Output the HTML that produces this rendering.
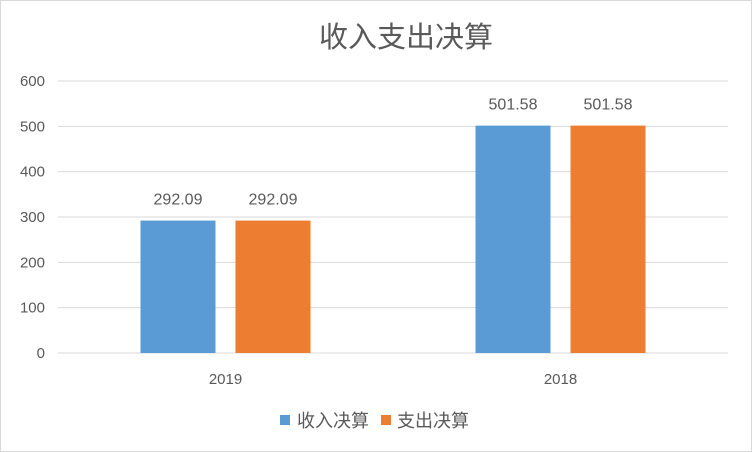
<!DOCTYPE html>
<html><head><meta charset="utf-8"><style>
body{margin:0;background:#fff;}
#wrap{position:relative;width:752px;height:452px;overflow:hidden;}
svg text{font-family:"Liberation Sans","Noto Sans CJK SC",sans-serif;fill:#595959;}
</style></head><body>
<div id="wrap">
<svg id="chart" width="752" height="452">
<rect x="0.5" y="0.5" width="751" height="451" fill="#fff" stroke="#d9d9d9"/>
<text x="406" y="47" font-size="29" text-anchor="middle">收入支出决算</text>
<g id="grid"></g><g id="bars"></g>
<g>
<rect x="280" y="415" width="10" height="10" fill="#5b9bd5"/>
<text x="297" y="427" font-size="18">收入决算</text>
<rect x="381" y="415" width="10" height="10" fill="#ed7d31"/>
<text x="397" y="427" font-size="18">支出决算</text>
</g>
</svg></div>
<script>
const categories=["2019","2018"];
const incomeValues=[292.09,501.58];
const expenseValues=[292.09,501.58];
const tickLabels=[0,100,200,300,400,500,600];
const NS="http://www.w3.org/2000/svg";
const x0=58,x1=728,yBase=353,yTop=81,yMax=600;
const y=v=>yBase-(v/yMax)*(yBase-yTop);
const catW=(x1-x0)/categories.length;
const cx=i=>x0+catW*(i+0.5);
function mk(tag,attrs,parent){const e=document.createElementNS(NS,tag);for(const k in attrs)e.setAttribute(k,attrs[k]);parent.appendChild(e);return e;}
const grid=document.getElementById('grid'),bars=document.getElementById('bars');
tickLabels.forEach(t=>{
 const l=mk('line',{x1:x0,x2:x1,y1:y(t),y2:y(t),stroke:'#d9d9d9','stroke-width':1},grid);
 
 
 const tx=mk('text',{x:45,y:y(t)+5,'font-size':15,'text-anchor':'end'},grid);
 tx.textContent=t;
 
 
});
const bw=75,gap=20;
categories.forEach((c,i)=>{
 [[incomeValues,'#5b9bd5','income',-1],[expenseValues,'#ed7d31','expense',1]].forEach(([arr,col,nm,s])=>{
  const v=arr[i];
  const bx=s<0?cx(i)-gap/2-bw:cx(i)+gap/2;
  const r=mk('rect',{x:bx,y:y(v),width:bw,height:yBase-y(v),fill:col},bars);
  
  
  const t=mk('text',{x:bx+bw/2,y:y(v)-16,'font-size':16,'text-anchor':'middle'},bars);
  t.textContent=v.toFixed(2);
  
  
 });
 const t=mk('text',{x:cx(i),y:384,'font-size':15,'text-anchor':'middle'},bars);
 t.textContent=c;
 
 
});
</script>
</body></html>
